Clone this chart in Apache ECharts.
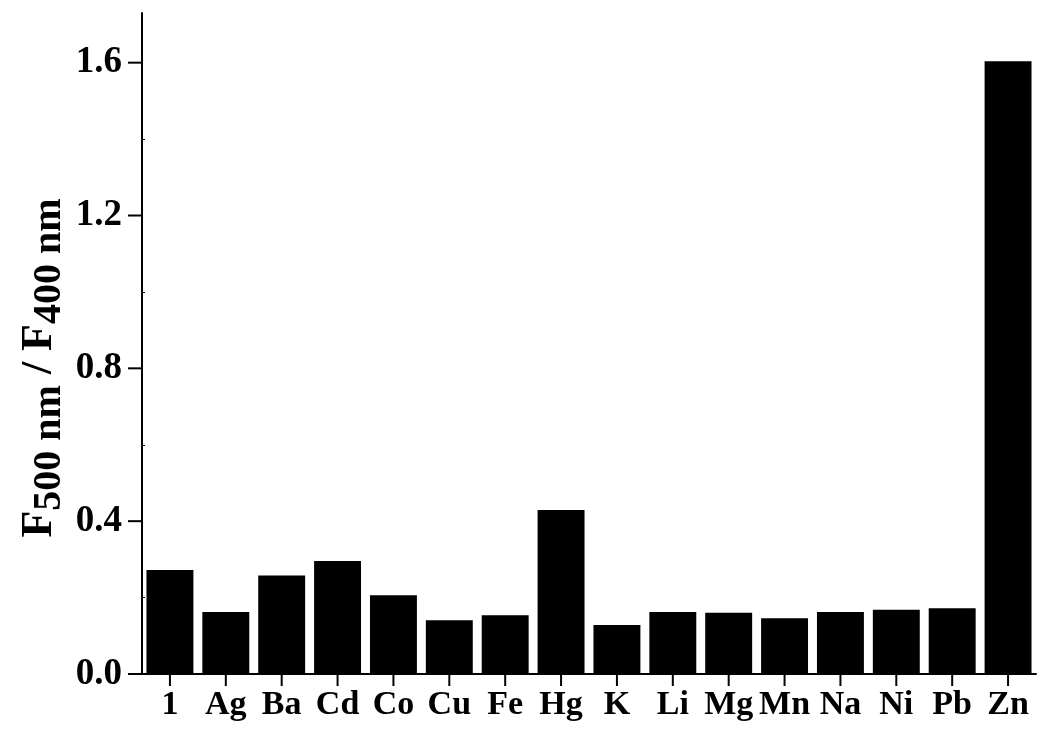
<!DOCTYPE html>
<html>
<head>
<meta charset="utf-8">
<script src="https://cdn.jsdelivr.net/npm/echarts@6/dist/echarts.min.js"></script>
<style>
html,body{margin:0;padding:0;background:#fff;}
#chart{width:1038px;height:732px;}
</style>
</head>
<body>
<div id="chart"></div>
<script>
const categories = ['1','Ag','Ba','Cd','Co','Cu','Fe','Hg','K','Li','Mg','Mn','Na','Ni','Pb','Zn'];
const ratioValues = [0.272,0.162,0.258,0.296,0.206,0.141,0.154,0.429,0.128,0.162,0.160,0.146,0.162,0.168,0.172,1.604];
const yTickValues = [0,0.4,0.8,1.2,1.6];
const yMinorTickValues = [0.2,0.6,1.0,1.4];

const FONT = 'Liberation Serif';

// tick marks built from the category list and tick values, placed through the axes
const xTickData = categories.map(c => [c, 0]);
const yTickData = yTickValues.map(v => [categories[0], v]);

const chart = echarts.init(document.getElementById('chart'), null, {renderer:'canvas'});
chart.setOption({
  animation:false,
  backgroundColor:'#fff',
  grid:{left:142,right:2,top:13,bottom:58,containLabel:false},
  xAxis:[{
    type:'category',
    data:categories,
    boundaryGap:true,
    axisLine:{show:true,lineStyle:{color:'#000',width:2}},
    axisTick:{show:false},
    axisLabel:{color:'#000',fontFamily:FONT,fontWeight:'bold',fontSize:34,margin:14,interval:0,hideOverlap:false},
    splitLine:{show:false}
  }],
  yAxis:[{
    type:'value',
    min:0,max:1.73,
    axisLine:{show:true,onZero:false,lineStyle:{color:'#000',width:2}},
    axisTick:{show:false},
    axisLabel:{show:true,color:'#000',fontFamily:FONT,fontWeight:'bold',fontSize:37,margin:20,
      customValues:yTickValues,formatter:v=>v.toFixed(1)},
    splitLine:{show:false}
  },{
    type:'value',
    min:0,max:1.73,
    position:'left',
    axisLine:{show:false},
    axisTick:{show:true,inside:true,length:3,customValues:yMinorTickValues,lineStyle:{color:'#000',width:1}},
    axisLabel:{show:false},
    splitLine:{show:false}
  }],
  graphic:[{
    type:'text',
    id:'ytitle',
    x:40,y:368,
    rotation:Math.PI/2,
    style:{
      text:'{m|F}{s|500 nm}{m| / F}{s|400 nm}',
      align:'center',verticalAlign:'middle',
      fill:'#000',
      rich:{
        m:{fontFamily:FONT,fontWeight:'bold',fontSize:44,fill:'#000'},
        s:{fontFamily:FONT,fontWeight:'bold',fontSize:40,fill:'#000',padding:[20,0,0,0]}
      }
    }
  }],
  series:[{
    type:'bar',
    xAxisIndex:0,
    yAxisIndex:0,
    data:ratioValues,
    barCategoryGap:'16%',
    itemStyle:{color:'#000'}
  },{
    type:'custom',
    name:'xticks',
    xAxisIndex:0,yAxisIndex:0,
    clip:false,silent:true,z:10,
    encode:{x:0,y:1},
    data:xTickData,
    renderItem:function(params, api){
      const p = api.coord([api.value(0), api.value(1)]);
      return {type:'rect', shape:{x:p[0]-1, y:p[1]+1, width:2, height:11}, style:{fill:'#000'}};
    }
  },{
    type:'custom',
    name:'yticks',
    xAxisIndex:0,yAxisIndex:0,
    clip:false,silent:true,z:10,
    encode:{x:0,y:1},
    data:yTickData,
    renderItem:function(params, api){
      const p = api.coord([api.value(0), api.value(1)]);
      const band = api.size([1,0])[0];
      const left = p[0] - band/2;
      return {type:'rect', shape:{x:left-14, y:p[1]-1, width:14, height:2}, style:{fill:'#000'}};
    }
  }]
});
</script>
</body>
</html>
